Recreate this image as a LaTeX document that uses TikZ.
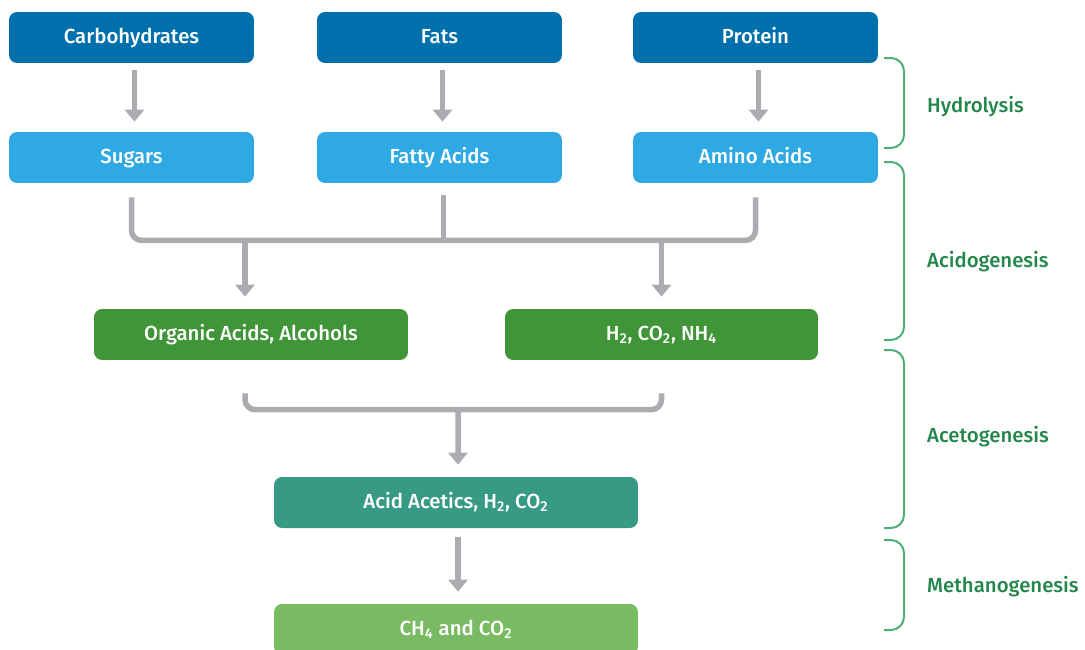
\documentclass[tikz,border=0pt]{standalone}
\usepackage{fontspec}
\setmainfont{Fira Sans}[BoldFont={Fira Sans Medium}]
\usetikzlibrary{arrows.meta,calc}
\definecolor{rawblue}{RGB}{0,112,173}
\definecolor{monoblue}{RGB}{47,169,227}
\definecolor{acidgreen}{RGB}{63,149,55}
\definecolor{aceteal}{RGB}{55,154,133}
\definecolor{methgreen}{RGB}{120,187,99}
\definecolor{flowgray}{RGB}{170,172,176}
\definecolor{bracegreen}{RGB}{80,175,120}
\definecolor{phasegreen}{RGB}{35,135,75}

\begin{document}
\begin{tikzpicture}[x=0.02cm,y=-0.02cm,
    every node/.style={font=\fontsize{11.6}{13}\selectfont\bfseries},
    box/.style={rounded corners=0.16cm,minimum height=1.02cm,text=white,inner sep=0pt,
      text height=0.8em,text depth=0.12em},
    rawbox/.style={box,fill=rawblue,minimum width=4.9cm},
    monobox/.style={box,fill=monoblue,minimum width=4.9cm},
    flow/.style={draw=flowgray,line width=0.11cm,-{Triangle[width=0.38cm,length=0.24cm]}},
    pipe/.style={draw=flowgray,line width=0.11cm,rounded corners=0.2cm},
    brace/.style={draw=bracegreen,line width=0.04cm,rounded corners=0.26cm},
    phase/.style={anchor=west,text=phasegreen}]
  \useasboundingbox (0,0) rectangle (1085,649);
  % substrates and monomers
  \node[rawbox] (carb) at (131.5,37.5){Carbohydrates};
  \node[rawbox] (fats) at (439.5,37.5){Fats};
  \node[rawbox] (protein) at (755.5,37.5){Protein};
  \node[monobox] (sugars) at (131.5,157.5){Sugars};
  \node[monobox] (fatty) at (439.5,157.5){Fatty Acids};
  \node[monobox] (amino) at (755.5,157.5){Amino Acids};
  % intermediates and products
  \node[box,fill=acidgreen,minimum width=6.28cm] (orgacids) at (251,334.5){Organic Acids, Alcohols};
  \node[box,fill=acidgreen,minimum width=6.26cm] (gases) at (661.5,334.5){H\textsubscript{2}, CO\textsubscript{2}, NH\textsubscript{4}};
  \node[box,fill=aceteal,minimum width=7.28cm] (acetic) at (456,502.5){Acid Acetics, H\textsubscript{2}, CO\textsubscript{2}};
  \node[box,fill=methgreen,minimum width=7.28cm] (methane) at (456,629.5){CH\textsubscript{4} and CO\textsubscript{2}};

  \foreach \a/\b in {carb/sugars,fats/fatty,protein/amino}{
    \draw[flow,shorten <=0.14cm,shorten >=0.2cm] ([xshift=0.06cm]\a.south) -- ([xshift=0.06cm]\b.north);
  }
  % acidogenesis junction
  \coordinate (hubA) at ($(fatty.south)+(4,57)$);
  \draw[pipe] ($(sugars.south)+(0,14)$) |- (hubA) -| ($(amino.south)+(0,14)$);
  \draw[pipe] ($(fatty.south)+(4,12)$) -- ($(fatty.south)+(4,60)$);
  \draw[flow,shorten >=0.24cm] ([xshift=-0.12cm]orgacids.north |- hubA) -- ([xshift=-0.12cm]orgacids.north);
  \draw[flow,shorten >=0.24cm] (gases.north |- hubA) -- (gases.north);
  % acetogenesis junction
  \coordinate (hubB) at ($(acetic.north)+(2,-67)$);
  \draw[pipe] ($(orgacids.south)+(-6,33)$) |- (hubB) -| ($(gases.south)+(0,33)$);
  \draw[flow,shorten >=0.24cm] (hubB) -- ([xshift=0.04cm]acetic.north);
  \draw[flow,shorten <=0.18cm,shorten >=0.24cm] ([xshift=0.04cm]acetic.south) -- ([xshift=0.04cm]methane.north);

  % phase brackets
  \foreach \t/\b in {58/148,162/340,350/528,540/630}{
    \draw[brace] (884,\t) -| (904,{(\t+\b)/2}) |- (884,\b);
  }
  \node[phase] (hydro) at (921,107){Hydrolysis};
  \node[phase] (acido) at (921,262){Acidogenesis};
  \node[phase] (aceto) at (921,437){Acetogenesis};
  \node[phase] (metha) at (921,587){Methanogenesis};
\end{tikzpicture}
\end{document}
